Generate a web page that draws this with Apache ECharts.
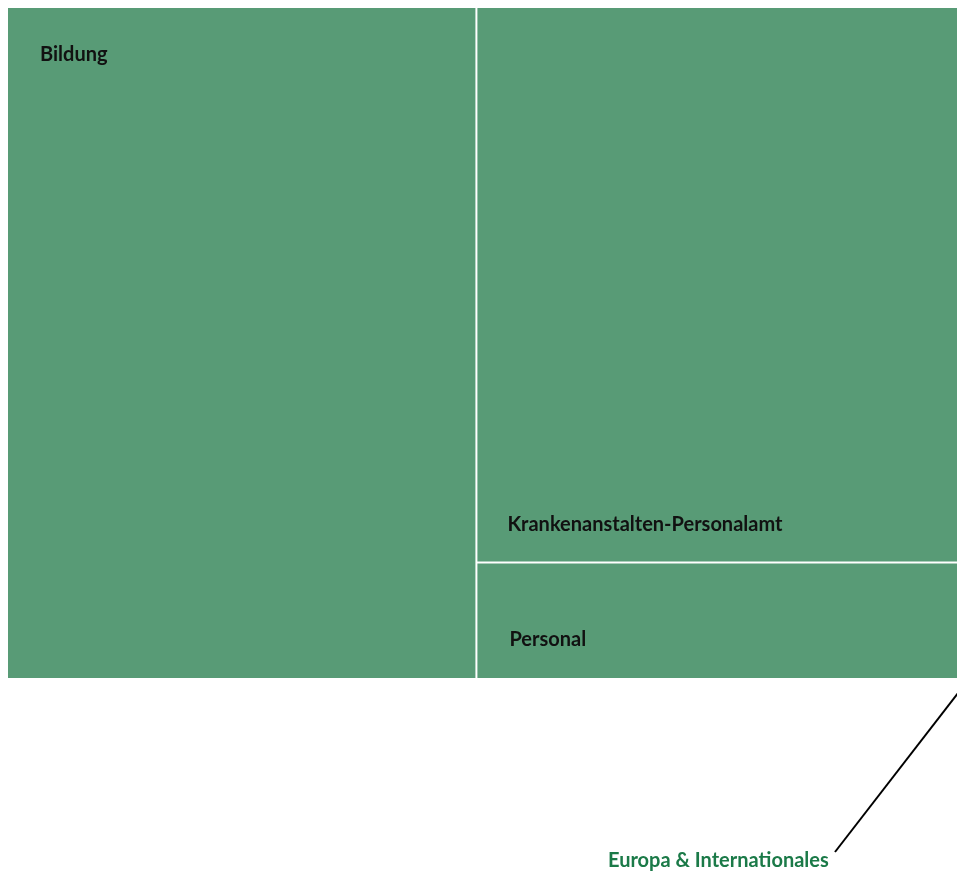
<!DOCTYPE html>
<html>
<head>
<meta charset="utf-8">
<script src="https://cdn.jsdelivr.net/npm/echarts@6/dist/echarts.min.js"></script>
<style>
  html, body { margin: 0; padding: 0; background: #fff; }
  #chart-container { width: 957px; height: 874px; }
</style>
</head>
<body>
<div id="chart-container"></div>
<script>
const names = ['Bildung', 'Krankenanstalten-Personalamt', 'Personal', 'Europa & Internationales'];
const values = [3136, 2787, 558, 26];

const FILL = '#589b76';
const LABEL_GREEN = '#1b7a48';
const FONT = 'Lato, "Open Sans", sans-serif';

// where each box puts its label
const labelFor = {
  'Bildung': { position: [27, 32], verticalAlign: 'top' },
  'Krankenanstalten-Personalamt': { position: 'insideBottomLeft', distance: 0, offset: [25, -22], verticalAlign: 'bottom' },
  'Personal': { position: 'insideBottomLeft', distance: 0, offset: [27, -23], verticalAlign: 'bottom' },
  'Europa & Internationales': { show: false },
};

const dom = document.getElementById('chart-container');
const myChart = echarts.init(dom, null, { renderer: 'canvas' });

const option = {
  animation: false,
  series: [
    {
      type: 'treemap',
      left: 8,
      top: 8,
      width: 972,
      height: 670,
      squareRatio: 1,
      roam: false,
      nodeClick: false,
      breadcrumb: { show: false },
      itemStyle: {
        borderWidth: 0,
        gapWidth: 2,
        borderColor: '#fff',
      },
      levels: [{ color: [FILL], itemStyle: { gapWidth: 2, borderWidth: 0 } }],
      label: {
        color: '#111',
        fontFamily: FONT,
        fontWeight: 'bold',
        fontSize: 20,
      },
      emphasis: { disabled: true },
      data: names.map((n, i) => ({
        name: n,
        value: values[i],
        itemStyle: { color: FILL },
        label: labelFor[n],
      })),
    },
  ],
};

myChart.setOption(option);

// leader line + outside label for the tiny box
const series = myChart.getModel().getSeriesByIndex(0);
let end = [970, 678];
try {
  const node = series.getData().tree.root.children.find((c) => c.name === names[3]);
  const lay = node.getLayout();
  end = [8 + lay.x + lay.width / 2, 8 + lay.y + lay.height];
} catch (e) {}

myChart.setOption({
  graphic: [
    {
      type: 'line',
      shape: { x1: 835, y1: 852, x2: end[0], y2: end[1] },
      style: { stroke: '#000', lineWidth: 2 },
    },
    {
      type: 'text',
      left: 608,
      top: 851,
      style: {
        text: names[3],
        fill: LABEL_GREEN,
        font: 'bold 20px ' + FONT,
      },
    },
  ],
});

window.addEventListener('resize', myChart.resize);
</script>
</body>
</html>
